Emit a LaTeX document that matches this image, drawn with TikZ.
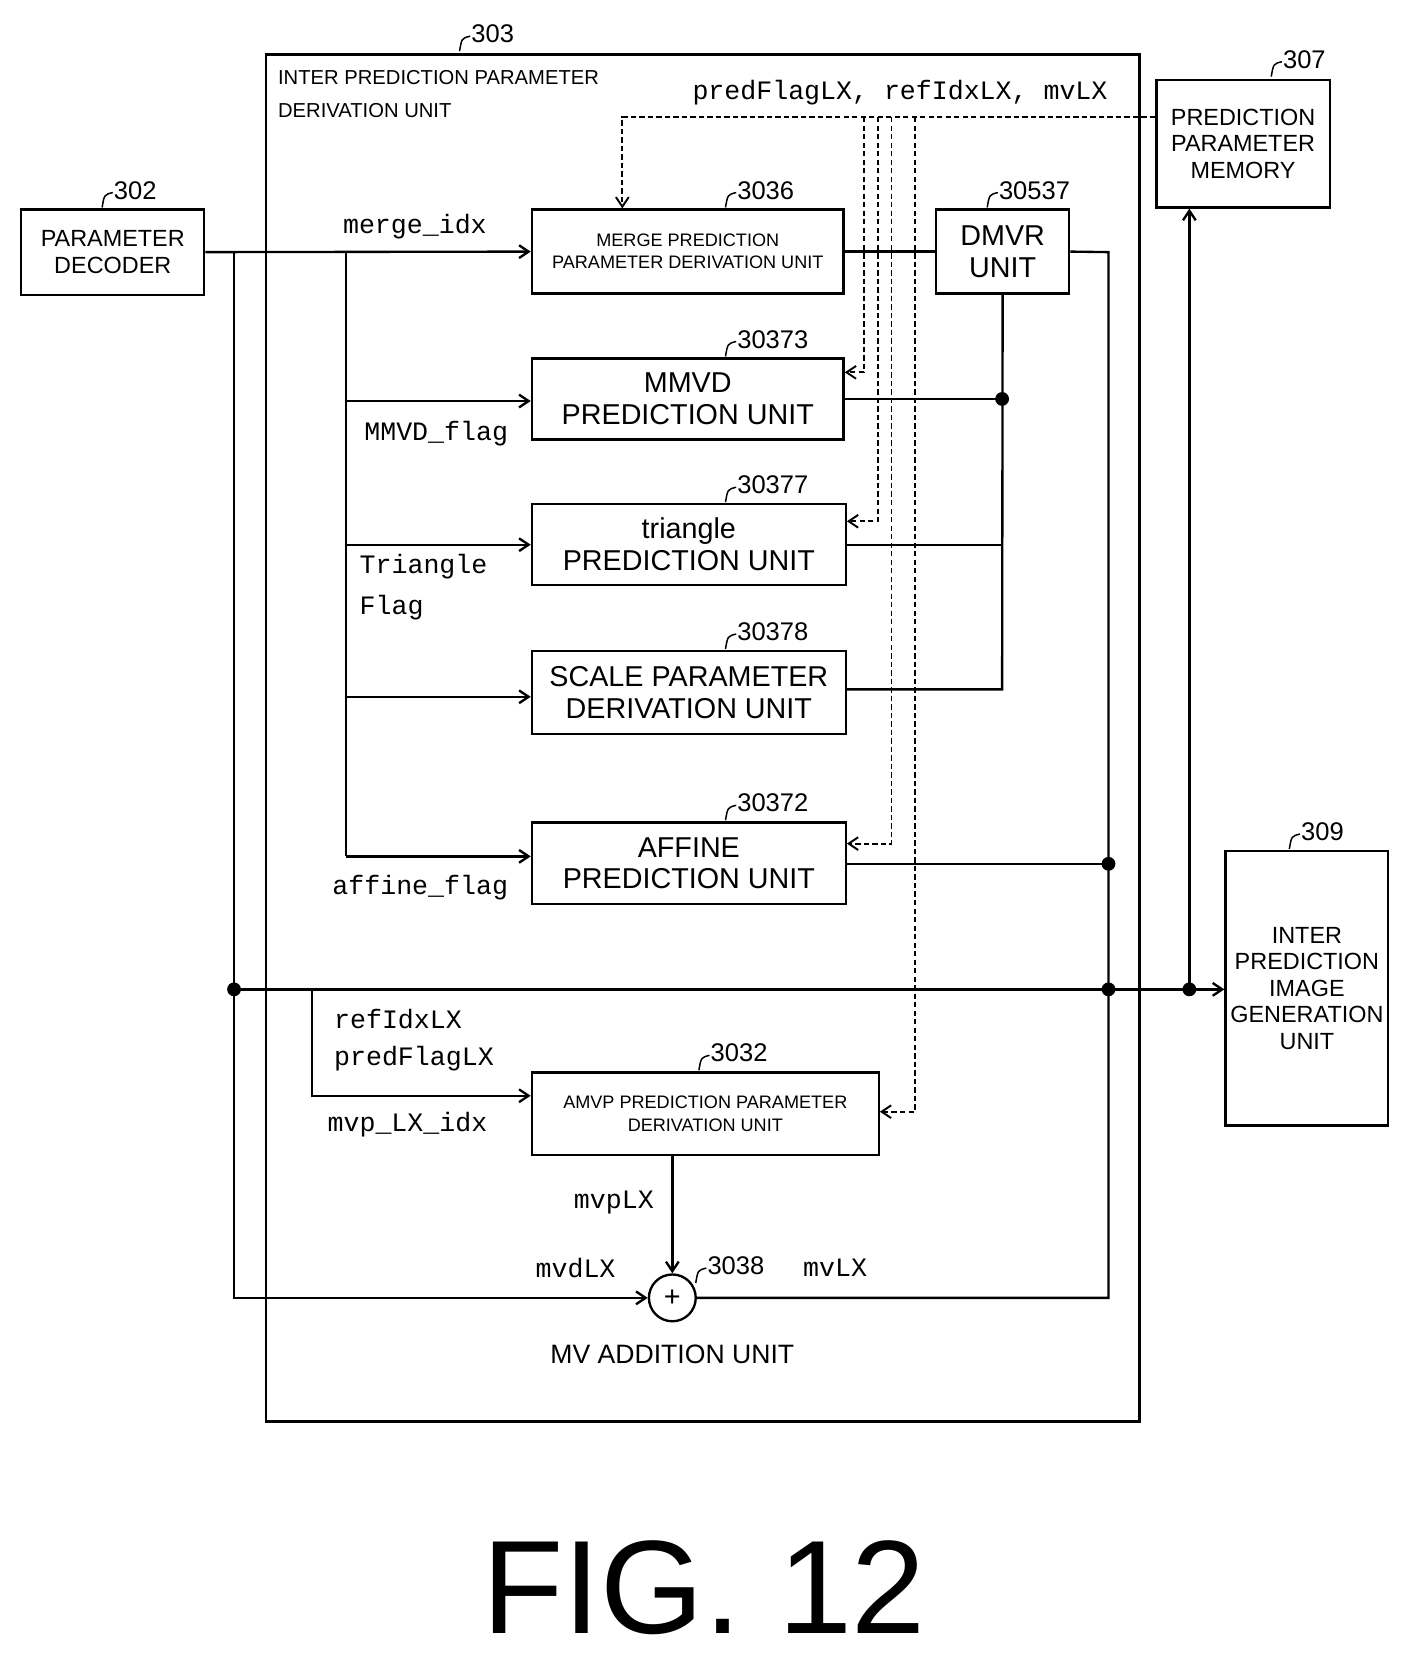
\documentclass[tikz,border=0pt]{standalone}
\usepackage{fontspec}
\setmainfont{Liberation Sans}
\newfontfamily\monof{Liberation Mono}
\usetikzlibrary{arrows.meta}
\begin{document}
\begin{tikzpicture}[x=1pt,y=-1pt,line width=2.2pt,
  box/.style={draw,minimum width=#1,inner sep=0pt,align=center},
  big/.style={font=\fontsize{27}{30}\selectfont},
  mid/.style={font=\fontsize{22}{25}\selectfont},
  sm/.style={font=\fontsize{17}{21}\selectfont},
  lab/.style={font=\monof\fontsize{25}{30}\selectfont,inner sep=0pt},
  num/.style={font=\fontsize{24}{24}\selectfont,inner sep=0pt,anchor=west},
  arr/.style={-{Straight Barb[length=9pt,width=12pt]}},
  dsh/.style={dash pattern=on 5pt off 3pt,line width=1.8pt},
  dot/.style={circle,fill,inner sep=0pt,minimum size=13pt}]
\useasboundingbox (0,0) rectangle (1325,1567);
\newcommand{\refn}[3]{\draw[line width=1.4pt] (#1,#2) .. controls (#1+2,#2-12) .. (#1+10,#2-14); \node[num] at (#1+10,#2-16) {#3};}
% outer box
\node[draw,minimum width=821pt,minimum height=1285pt,inner sep=0pt,anchor=north west] (outer) at (249,50) {};
\refn{432}{48}{303}
\node[align=left,anchor=north west,font=\fontsize{19}{31}\selectfont] (title) at (257,62) {INTER PREDICTION PARAMETER\\DERIVATION UNIT};
% boxes
\node[box=172pt,minimum height=80pt,mid] (dec) at (106,237) {PARAMETER\\DECODER};
\refn{96}{195}{302}
\node[box=163pt,minimum height=120pt,mid] (mem) at (1168.5,135) {PREDICTION\\PARAMETER\\MEMORY};
\refn{1195}{72}{307}
\node[box=153pt,minimum height=258pt,mid] (gen) at (1228.5,929) {INTER\\PREDICTION\\IMAGE\\GENERATION\\UNIT};
\refn{1212}{798}{309}
\node[box=293pt,minimum height=79pt,sm] (merge) at (646.5,236.5) {MERGE PREDICTION\\PARAMETER DERIVATION UNIT};
\refn{682}{195}{3036}
\node[box=125pt,minimum height=79pt,big] (dmvr) at (942.5,236.5) {DMVR\\UNIT};
\refn{928}{195}{30537}
\node[box=293pt,minimum height=76pt,big] (mmvd) at (646.5,375) {MMVD\\PREDICTION UNIT};
\refn{682}{335}{30373}
\node[box=295pt,minimum height=76pt,big] (tri) at (647.5,512) {triangle\\PREDICTION UNIT};
\refn{682}{472}{30377}
\node[box=295pt,minimum height=78pt,big] (scale) at (647.5,651) {SCALE PARAMETER\\DERIVATION UNIT};
\refn{682}{610}{30378}
\node[box=295pt,minimum height=77pt,big] (aff) at (647.5,811.5) {AFFINE\\PREDICTION UNIT};
\refn{682}{771}{30372}
\node[box=326pt,minimum height=78pt,sm] (amvp) at (663,1047) {AMVP PREDICTION PARAMETER\\DERIVATION UNIT};
\refn{657}{1006}{3032}
\node[draw,circle,minimum size=44pt,inner sep=0pt,big] (add) at (632,1220) {+};
\refn{654}{1206}{3038}
\node[font=\fontsize{25}{25}\selectfont] (mvadd) at (632,1273) {MV ADDITION UNIT};
\node[font=\fontsize{125}{125}\selectfont,inner sep=0pt] (fig) at (662,1492) {FIG. 12};
% coordinates
\coordinate (dA) at (220,237);
\coordinate (bB) at (325,237);
\coordinate (bus) at (220,930);
\coordinate (j1) at (942,375);
\coordinate (j2) at (1042,812);
\coordinate (j3) at (1042,930);
\coordinate (j4) at (1118,930);
% decoder lines
\draw[arr] (dec.east) -- (merge.west);
\draw (dA) -- (bus);
\draw[arr] (bus) -- (220,1220) -- (add.west);
\draw (bB) -- (325,805);
\draw[arr] (325,377) -- (mmvd.west |- 0,377);
\draw[arr] (325,512) -- (tri.west |- 0,512);
\draw[arr] (325,655) -- (scale.west |- 0,655);
\draw[arr] (325,805) -- (aff.west |- 0,805);
\draw[arr] (bus) -- (gen.west |- bus);
\draw[arr] (293,930) -- (293,1030) -- (amvp.west |- 0,1030);
\node[dot] at (bus) {};
\node[dot] at (j2) {};
\node[dot] at (j3) {};
\node[dot] at (j4) {};
\node[dot] at (j1) {};
% merge-dmvr
\draw (merge.east) -- (dmvr.west);
\draw (dmvr.east) -- (1042,237) -- (1042,1220) -- (add.east);
\draw (aff.east |- j2) -- (j2);
\draw (dmvr.south) -- (942,648) -- (scale.east |- 0,648);
\draw (mmvd.east |- j1) -- (j1);
\draw (tri.east |- 0,512) -- (942,512);
\draw[arr] (amvp.south -| add) -- (add.north);
\draw[{Straight Barb[length=9pt,width=12pt]}-] (mem.south -| j4) -- (j4);
% dashed feedback
\draw[dsh,arr] (mem.west |- 0,110) -- (585,110) -- (merge.north -| 585,0);
\draw[dsh,arr] (812,110) -- (812,350) -- (mmvd.east |- 0,350);
\draw[dsh,arr] (825,110) -- (825,490) -- (tri.east |- 0,490);
\draw[dsh,arr] (838,110) -- (838,793) -- (aff.east |- 0,793);
\draw[dsh,arr] (860,110) -- (860,1045) -- (amvp.east |- 0,1045);
% labels
\node[lab] (l1) at (846,87) {predFlagLX, refIdxLX, mvLX};
\node[lab] (l2) at (390,213) {merge\_idx};
\node[lab] (l3) at (410,408) {MMVD\_flag};
\node[lab,align=left,anchor=north west,font=\monof\fontsize{25}{38}\selectfont] (l4) at (337,520) {Triangle\\Flag};
\node[lab] (l5) at (395,834) {affine\_flag};
\node[lab,align=left,anchor=north west,font=\monof\fontsize{25}{34}\selectfont] (l6) at (313,948) {refIdxLX\\predFlagLX};
\node[lab] (l7) at (383,1057) {mvp\_LX\_idx};
\node[lab] (l8) at (577,1130) {mvpLX};
\node[lab] (l9) at (541,1192) {mvdLX};
\node[lab] (l10) at (785,1192) {mvLX};
\end{tikzpicture}
\end{document}
